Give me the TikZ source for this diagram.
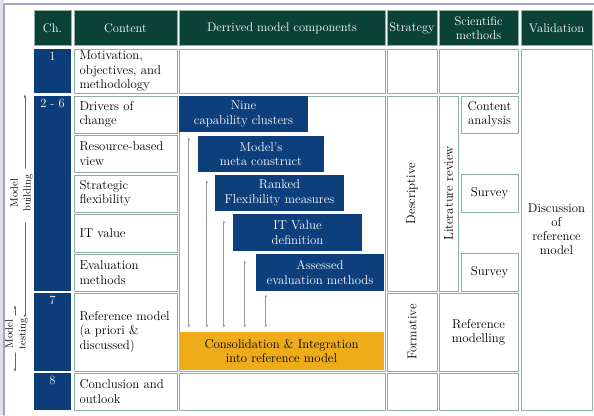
\documentclass[tikz,border=0pt]{standalone}
\usetikzlibrary{arrows.meta,positioning,calc}
\definecolor{hdgreen}{HTML}{0A4236}
\definecolor{chblue}{HTML}{0C3D7A}
\definecolor{compblue}{HTML}{0D3F7C}
\definecolor{consorange}{HTML}{EEAB1A}
\definecolor{cellline}{HTML}{8FAFA6}
\definecolor{arrowgrey}{HTML}{9A9A9A}
\definecolor{framelav}{HTML}{A3A3C2}
\tikzset{
  hd/.style={rectangle,fill=hdgreen,draw=cellline,line width=0.8pt,text=white,
             align=center,inner sep=1pt,minimum height=35pt,
             font=\fontsize{12.5}{13.5}\selectfont},
  chcell/.style={rectangle,fill=chblue,minimum width=37pt,inner sep=0pt},
  chnum/.style={anchor=north,text=white,inner sep=3pt,
                font=\fontsize{12.5}{13.5}\selectfont},
  txcell/.style={rectangle,fill=white,draw=cellline,line width=0.8pt,
                 text width=92pt,inner xsep=5.5pt,inner ysep=0pt,align=left,
                 font=\fontsize{12.8}{14.5}\selectfont},
  emcell/.style={rectangle,fill=white,draw=cellline,line width=0.8pt,
                 inner sep=0pt,align=center,font=\fontsize{12.8}{14}\selectfont},
  comp/.style={rectangle,fill=compblue,text=white,inner sep=0pt,align=center,
               font=\fontsize{12.8}{14.5}\selectfont},
  cons/.style={rectangle,fill=consorange,inner sep=0pt,align=center,
               font=\fontsize{12.8}{14.5}\selectfont},
  link/.style={draw=arrowgrey,line width=0.9pt,
               {Latex[length=3pt,width=2.6pt]}-{Latex[length=3pt,width=2.6pt]}},
  side/.style={draw=black!60,line width=0.6pt,-{Latex[length=3.5pt,width=2.5pt]}},
  sidelab/.style={rotate=90,align=center,inner sep=3pt,
                  font=\fontsize{10.5}{13}\selectfont},
  every picture/.style={line cap=round,line join=round}}

\begin{document}
\begin{tikzpicture}[x=1pt,y=-1pt]
  \useasboundingbox (0,0) rectangle (594,415);
  \fill[framelav!35] (0,0) rectangle (4,415);
  \draw[framelav,line width=1.5pt] (4,415) -- (4,4) -- (594,4);

  % header row
  \node[hd,minimum width=37pt] (hch) at (52.5,28) {Ch.};
  \node[hd,minimum width=103pt] (hcont) at (125.5,28) {Content};
  \node[hd,minimum width=206pt] (hder) at (282,28) {Derrived model components};
  \node[hd,minimum width=50pt] (hstr) at (412,28) {Strategy};
  \node[hd,minimum width=79pt] (hmet) at (478.5,28) {Scientific\\methods};
  \node[hd,minimum width=71pt] (hval) at (556.5,28) {Validation};

  % chapters
  \node[chcell,minimum height=44pt,label={[chnum]north:1}] (c1) at (52.5,71) {};
  \node[chcell,minimum height=195pt,label={[chnum]north:2 - 6}] (c26) at (52.5,193.5) {};
  \node[chcell,minimum height=78pt,label={[chnum]north:7}] (c7) at (52.5,332) {};
  \node[chcell,minimum height=37pt,label={[chnum]north:8}] (c8) at (52.5,391.5) {};

  % content
  \node[txcell,minimum height=44pt] (t1) at (125.5,71) {Motivation,\\objectives, and\\methodology};
  \node[txcell,minimum height=37pt] (t2) at (125.5,114.5) {Drivers of\\change};
  \node[txcell,minimum height=37pt] (t3) at (125.5,153.5) {Resource-based\\view};
  \node[txcell,minimum height=37pt] (t4) at (125.5,193.5) {Strategic\\flexibility};
  \node[txcell,minimum height=38pt] (t5) at (125.5,233) {IT value};
  \node[txcell,minimum height=37pt] (t6) at (125.5,272.5) {Evaluation\\methods};
  \node[txcell,minimum height=78pt] (t7) at (125.5,332) {Reference model\\(a priori \&\\discussed)};
  \node[txcell,minimum height=37pt] (t8) at (125.5,391.5) {Conclusion and\\outlook};

  % derived model components
  \node[emcell,minimum width=206pt,minimum height=44pt] (d1) at (282,71) {};
  \node[emcell,minimum width=206pt,minimum height=275pt] (dmain) at (282,233.5) {};
  \node[emcell,minimum width=206pt,minimum height=37pt] (d8) at (282,391.5) {};
  \node[comp,minimum width=129pt,minimum height=36pt] (b1) at (243.5,114) {Nine\\capability clusters};
  \node[comp,minimum width=126pt,minimum height=36pt] (b2) at (261,154) {Model's\\meta construct};
  \node[comp,minimum width=129pt,minimum height=36pt] (b3) at (279.5,193) {Ranked\\Flexibility measures};
  \node[comp,minimum width=129pt,minimum height=37pt] (b4) at (297.5,232.5) {IT Value\\definition};
  \node[comp,minimum width=128pt,minimum height=37pt] (b5) at (320,272.5) {Assessed\\evaluation methods};
  \node[cons,minimum width=205pt,minimum height=38pt] (cons) at (281.5,351) {Consolidation \& Integration\\into reference model};
  \foreach \i/\dx/\dy in {1/10/5,2/9/8,3/9/9,4/12/9,5/10/3}
    \draw[link] ([shift={(\dx,\dy)}]b\i.south west) coordinate (a\i)
      -- ([yshift=4pt]a\i |- cons.north);

  % strategy
  \node[emcell,minimum width=50pt,minimum height=44pt] (s1) at (412,71) {};
  \node[emcell,rotate=90,minimum width=195pt,minimum height=50pt] (s2) at (412,193.5) {Descriptive};
  \node[emcell,rotate=90,minimum width=78pt,minimum height=50pt] (s3) at (412,332) {Formative};
  \node[emcell,minimum width=50pt,minimum height=37pt] (s4) at (412,391.5) {};

  % scientific methods
  \node[emcell,minimum width=79pt,minimum height=44pt] (m1) at (478.5,71) {};
  \node[emcell,rotate=90,minimum width=195pt,minimum height=19pt] (lit) at (448.5,193.5) {Literature review};
  \node[emcell,minimum width=57pt,minimum height=37pt] (ca) at (489.5,114.5) {Content\\analysis};
  \node[emcell,minimum width=57pt,minimum height=38pt] (sv1) at (489.5,193) {Survey};
  \node[emcell,minimum width=57pt,minimum height=38pt] (sv2) at (489.5,272) {Survey};
  \node[emcell,minimum width=79pt,minimum height=78pt] (rm) at (478.5,332) {Reference\\modelling};
  \node[emcell,minimum width=79pt,minimum height=37pt] (m8) at (478.5,391.5) {};

  % validation
  \node[emcell,minimum width=71pt,minimum height=361pt] (val) at (556.5,229.5) {Discussion\\of\\reference\\model};

  % phases on the left
  \node[sidelab] (mb) at (21.5,193) {Model\\building};
  \node[sidelab] (mt) at (16.5,334) {Model\\testing};
  \coordinate (bt) at (25,94);
  \coordinate (bb) at (25,318);
  \coordinate (tt) at (15,305);
  \coordinate (tb) at (15,372);
  \draw[side] ([yshift=3pt]bt |- mb.east) -- (bt);
  \draw[side] ([yshift=-8pt]bb |- mb.west) -- (bb);
  \draw[side] (tt |- mt.east) -- (tt);
  \draw[side] (tb |- mt.west) -- (tb);
\end{tikzpicture}
\end{document}
